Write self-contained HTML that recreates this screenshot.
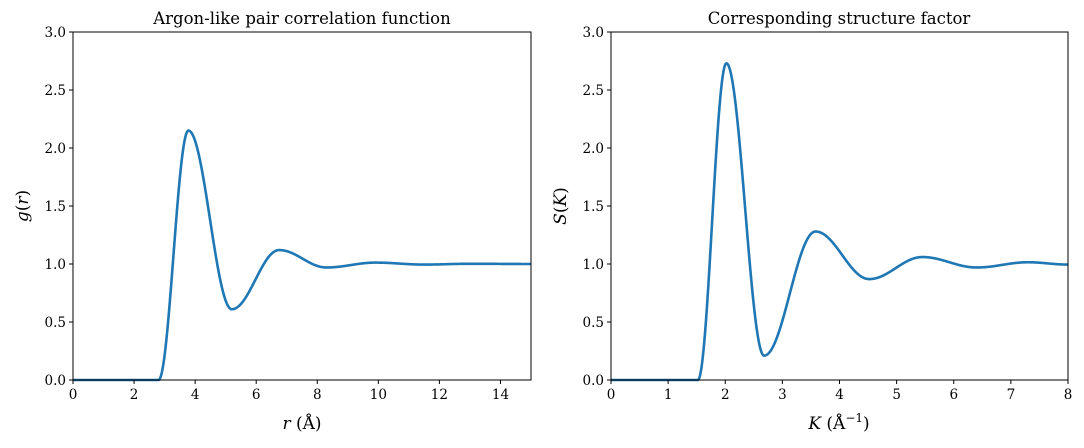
<!DOCTYPE html>
<html><head><meta charset="utf-8"><style>
body{margin:0;background:#fff;}
svg text{font-family:"DejaVu Serif","Liberation Serif",serif;fill:#000;}
</style></head><body>
<svg id="s" width="1084" height="443" xmlns="http://www.w3.org/2000/svg">
<rect width="1084" height="443" fill="#fff"/>
<g id="g"></g>
<text x="302" y="24" font-size="16.5" text-anchor="middle">Argon-like pair correlation function</text>
<text x="839" y="24" font-size="16.5" text-anchor="middle">Corresponding structure factor</text>
<text x="302" y="429" font-size="17" text-anchor="middle"><tspan font-style="italic">r</tspan> (Å)</text>
<text x="839" y="429" font-size="17" text-anchor="middle"><tspan font-style="italic">K</tspan> (Å<tspan font-size="12" dy="-7">−1</tspan><tspan dy="7">)</tspan></text>
<text transform="translate(28,206) rotate(-90)" font-size="17" text-anchor="middle"><tspan font-style="italic">g</tspan>(<tspan font-style="italic">r</tspan>)</text>
<text transform="translate(566,206) rotate(-90)" font-size="17" text-anchor="middle"><tspan font-style="italic">S</tspan>(<tspan font-style="italic">K</tspan>)</text>
</svg>
<script>
var NS="http://www.w3.org/2000/svg",G=document.getElementById("g");
function el(t,a,txt){var e=document.createElementNS(NS,t);for(var k in a)e.setAttribute(k,a[k]);if(txt!=null)e.textContent=txt;G.appendChild(e);return e;}
var Y0=380,Y1=32;
function panel(x0,x1,xmax,step,pts,dec){
 var sx=(x1-x0)/xmax,sy=(Y0-Y1)/3;
 // curve
 var d="";
 for(var i=0;i<=1200;i++){
  var x=xmax*i/1200,y=0;
  if(x<=pts[0][0])y=0;else{
   for(var j=0;j<pts.length-1;j++){if(x<=pts[j+1][0]||j==pts.length-2){var a=pts[j],b=pts[j+1],t=Math.min(1,(x-a[0])/(b[0]-a[0]));y=a[1]+(b[1]-a[1])*(1-Math.cos(Math.PI*t))/2;break;}}
  }
  d+=(i?"L":"M")+(x0+x*sx).toFixed(2)+" "+(Y0-y*sy).toFixed(2);
 }
 el("path",{d:d,fill:"none",stroke:"#1f77b4","stroke-width":2.6});
 el("rect",{x:x0,y:Y1,width:x1-x0,height:Y0-Y1,fill:"none",stroke:"#000","stroke-width":1});
 for(var v=0;v<=xmax+1e-9;v+=step){var X=x0+v*sx;el("line",{x1:X,x2:X,y1:Y0,y2:Y0+4,stroke:"#000"});el("text",{x:X,y:Y0+19,"font-size":13.5,"text-anchor":"middle"},String(v));}
 for(var k=0;k<=6;k++){var v2=k*0.5,Y=Y0-v2*sy;el("line",{x1:x0-4,x2:x0,y1:Y,y2:Y,stroke:"#000"});el("text",{x:x0-7,y:Y+5,"font-size":13.5,"text-anchor":"end"},v2.toFixed(1));}
}
panel(73,531,15,2,[[2.8,0],[3.78,2.15],[5.2,0.61],[6.75,1.12],[8.3,0.97],[9.9,1.012],[11.5,0.995],[13,1.002],[15,1]]);
panel(611,1068,8,1,[[1.52,0],[2.02,2.73],[2.68,0.21],[3.58,1.28],[4.52,0.87],[5.45,1.06],[6.4,0.97],[7.3,1.015],[8,0.995]]);
</script>
</body></html>
